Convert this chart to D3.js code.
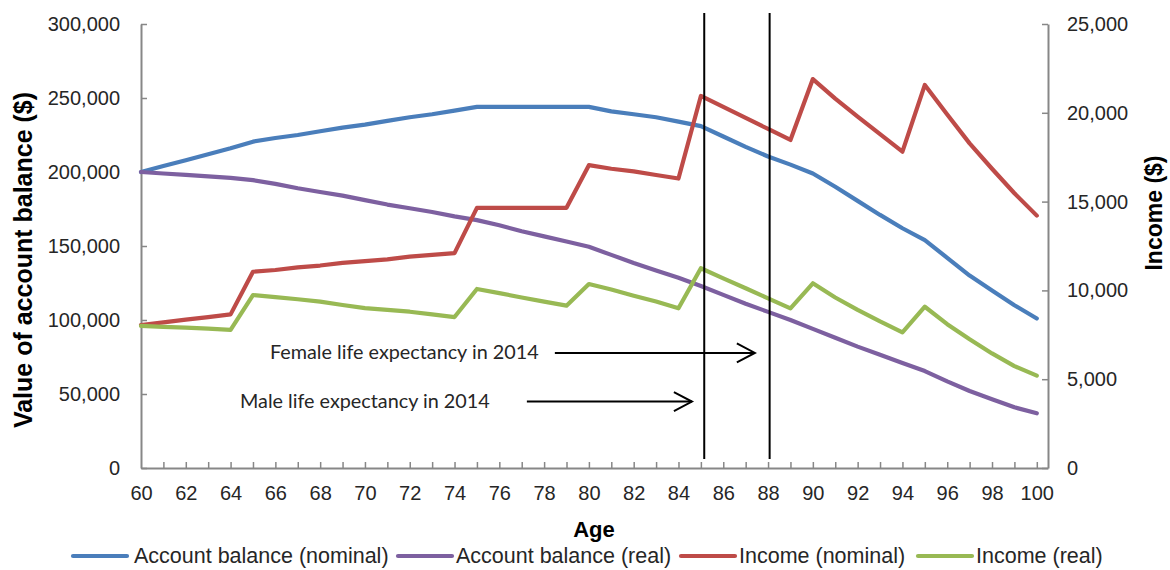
<!DOCTYPE html>
<html>
<head>
<meta charset="utf-8">
<script src="https://cdn.jsdelivr.net/npm/d3@7"></script>
<style>
  html, body { margin: 0; padding: 0; background: #fff; }
  svg { display: block; }
</style>
</head>
<body>
<svg id="chart" width="1170" height="570"></svg>
<script>
// ---------- data ----------
const ages = d3.range(60, 101);
const balanceNominal = [200000,204000,208000,212000,216000,220500,223000,225000,227500,230000,232000,234500,237000,239000,241500,244000,244000,244000,244000,244000,244000,241000,239000,237000,234000,231000,224000,217000,210500,205000,199000,190000,180500,171000,162000,154000,142000,130000,120000,110000,101000];
const balanceReal = [200000,199000,198000,197000,196000,194500,192000,189000,186500,184000,181000,178000,175500,173000,170000,167500,164000,160000,156500,153000,149500,144000,138500,133500,128500,123000,117000,111000,105500,100000,94000,88000,82000,76500,71000,65500,58500,52000,46500,41000,37000];
const incomeNominal = [8050,8200,8350,8500,8650,11050,11150,11300,11400,11550,11650,11750,11900,12000,12100,14650,14650,14650,14650,14650,17050,16850,16700,16500,16300,20950,20330,19710,19090,18470,21900,20800,19780,18800,17810,21570,19900,18280,16850,15470,14210];
const incomeReal = [8000,7950,7900,7850,7780,9740,9620,9500,9370,9180,9000,8900,8800,8650,8500,10080,9850,9600,9370,9140,10360,10050,9700,9370,8990,11245,10680,10120,9550,8990,10400,9600,8900,8250,7640,9080,8100,7250,6450,5740,5200];
const seriesNames = ["Account balance (nominal)", "Account balance (real)", "Income (nominal)", "Income (real)"];
const leftTicks = [0,50000,100000,150000,200000,250000,300000];
const rightTicks = [0,5000,10000,15000,20000,25000];
const xLabelAges = d3.range(60, 101, 2);
// life expectancy markers (age) and annotation labels
const lifeExpMale = 85.15;
const lifeExpFemale = 88.07;
const annotations = [
  {text: "Female life expectancy in 2014", textAge: 65.76, arrowFrom: 78.48, arrowTo: 87.41, income: 6480},
  {text: "Male life expectancy in 2014", textAge: 64.42, arrowFrom: 77.23, arrowTo: 84.6, income: 3740}
];

// ---------- layout ----------
const m = {left: 141, right: 1048, top: 24, bottom: 468};
const svg = d3.select("#chart");
const colors = ["#4A7EBB", "#7D60A0", "#BE4B48", "#98B954"];
const axisColor = "#878787";
const textColor = "#262626";
const tickFont = "'Liberation Sans', Arial, sans-serif";

const x = d3.scaleLinear().domain([60, 100.5]).range([m.left, m.right]);
const yL = d3.scaleLinear().domain([0, 300000]).range([m.bottom, m.top]);
const yR = d3.scaleLinear().domain([0, 25000]).range([m.bottom, m.top]);
const fmt = d3.format(",");

// ---------- axes ----------
function styleAxis(g) {
  g.select(".domain").attr("stroke", axisColor).attr("stroke-width", 2);
  g.selectAll(".tick line").attr("stroke", axisColor).attr("stroke-width", 1.5);
  g.selectAll(".tick text").attr("fill", textColor).attr("font-size", 20).attr("font-family", tickFont);
}

const gLeft = svg.append("g").attr("transform", `translate(${m.left},0)`)
  .call(d3.axisLeft(yL).tickValues(leftTicks).tickFormat(fmt).tickSizeInner(-6).tickSizeOuter(0).tickPadding(21));
styleAxis(gLeft);

const gRight = svg.append("g").attr("transform", `translate(${m.right},0)`)
  .call(d3.axisRight(yR).tickValues(rightTicks).tickFormat(fmt).tickSizeInner(-6).tickSizeOuter(0).tickPadding(19));
styleAxis(gRight);

const gBottom = svg.append("g").attr("transform", `translate(0,${m.bottom})`)
  .call(d3.axisBottom(x).tickValues(ages).tickFormat(d => (xLabelAges.includes(d) ? d : "")).tickSizeInner(-6).tickSizeOuter(0).tickPadding(18));
styleAxis(gBottom);
gBottom.selectAll(".tick").filter(d => d === 60).select("line").remove();

// ---------- axis titles ----------
svg.append("text")
  .attr("transform", `translate(32,260) rotate(-90)`)
  .attr("text-anchor", "middle")
  .attr("font-family", tickFont).attr("font-weight", "bold").attr("font-size", 25)
  .attr("fill", "#000")
  .text("Value of account balance ($)");

svg.append("text")
  .attr("transform", `translate(1162,213) rotate(-90)`)
  .attr("text-anchor", "middle")
  .attr("font-family", tickFont).attr("font-weight", "bold").attr("font-size", 23)
  .attr("fill", "#000")
  .text("Income ($)");

svg.append("text")
  .attr("x", 594).attr("y", 537)
  .attr("text-anchor", "middle")
  .attr("font-family", tickFont).attr("font-weight", "bold").attr("font-size", 22)
  .attr("fill", "#000")
  .text("Age");

// ---------- series ----------
const lineL = d3.line().x((d, i) => x(ages[i])).y(d => yL(d));
const lineR = d3.line().x((d, i) => x(ages[i])).y(d => yR(d));
const seriesData = [
  {vals: balanceNominal, gen: lineL},
  {vals: balanceReal, gen: lineL},
  {vals: incomeNominal, gen: lineR},
  {vals: incomeReal, gen: lineR}
];
svg.append("g").selectAll("path").data(seriesData).join("path")
  .attr("d", d => d.gen(d.vals))
  .attr("fill", "none")
  .attr("stroke", (d, i) => colors[i])
  .attr("stroke-width", 4.2)
  .attr("stroke-linejoin", "round")
  .attr("stroke-linecap", "round");

// ---------- life expectancy lines ----------
const ann = svg.append("g");
[lifeExpMale, lifeExpFemale].forEach(a => {
  ann.append("line")
    .attr("x1", x(a)).attr("x2", x(a))
    .attr("y1", 13).attr("y2", 459)
    .attr("stroke", "#000").attr("stroke-width", 2);
});

annotations.forEach(a => {
  const yy = yR(a.income);
  ann.append("text")
    .attr("x", x(a.textAge)).attr("y", yy + 6)
    .attr("font-family", "Lato, 'Open Sans', sans-serif")
    .attr("font-size", 19.8)
    .attr("fill", textColor)
    .text(a.text);
  const x0 = x(a.arrowFrom), x1 = x(a.arrowTo);
  ann.append("line").attr("x1", x0).attr("x2", x1).attr("y1", yy).attr("y2", yy)
    .attr("stroke", "#000").attr("stroke-width", 2);
  ann.append("path")
    .attr("d", `M${x1 - 18},${yy - 9.5}L${x1},${yy}L${x1 - 18},${yy + 9.5}`)
    .attr("fill", "none").attr("stroke", "#000").attr("stroke-width", 2);
});

// ---------- legend ----------
const legendItems = [
  {swatch: 73, text: 134},
  {swatch: 398, text: 456},
  {swatch: 681, text: 739},
  {swatch: 918, text: 976}
];
const lg = svg.append("g");
seriesNames.forEach((name, i) => {
  const it = legendItems[i];
  lg.append("line")
    .attr("x1", it.swatch).attr("x2", it.swatch + 54)
    .attr("y1", 556).attr("y2", 556)
    .attr("stroke", colors[i]).attr("stroke-width", 4.2).attr("stroke-linecap", "round");
  lg.append("text")
    .attr("x", it.text).attr("y", 563)
    .attr("font-family", tickFont).attr("font-size", 21.5)
    .attr("fill", textColor)
    .text(name);
});
</script>
</body>
</html>
